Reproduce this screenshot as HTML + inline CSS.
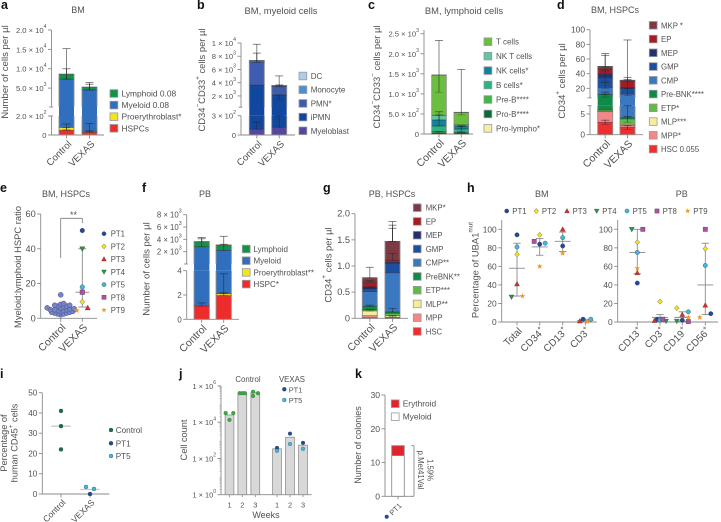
<!DOCTYPE html>
<html lang="en">
<head>
<meta charset="utf-8">
<title>VEXAS cell population charts</title>
<style>
html,body{margin:0;padding:0;background:#fff;width:721px;height:522px;overflow:hidden}
svg{display:block;font-family:"Liberation Sans",sans-serif}
text{fill:#505050}
</style>
</head>
<body>
<svg id="fig" xmlns="http://www.w3.org/2000/svg" width="721" height="522" viewBox="0 0 721 522"></svg>
<script>
/* ---------- shared categories ---------- */
const groupLabels = ['Control', 'VEXAS'];
const patients = ['PT1', 'PT2', 'PT3', 'PT4', 'PT5', 'PT8', 'PT9'];

/* ---------- panel a ---------- */
const aTickValues = [0, 200, 5000, 10000, 15000, 20000];
const aTickLabels = ['0', '2.0 × 10^{2}', '5.0 × 10^{3}', '1.0 × 10^{4}', '1.5 × 10^{4}', '2.0 × 10^{4}'];
const aHspc = [50, 28];
const aProery = [30, 7];
const aMyeloid = [7220, 4465];
const aLymphoid = [1290, 750];
const aErrControl = [[7300, 15200], [7300, 10000], [55, 115], [50, 80]];
const aErrVexas = [[4500, 6450], [4500, 6000], [35, 120], [28, 45]];

/* ---------- panel b ---------- */
const bTickValues = [0, 300, 2000, 4000, 6000, 8000, 10000];
const bTickLabels = ['0', '3 × 10^{2}', '2 × 10^{3}', '4 × 10^{3}', '6 × 10^{3}', '8 × 10^{3}', '1 × 10^{4}'];
const bMyeloblast = [90, 120];
const bIpmn = [3580, 2030];
const bPmn = [3430, 1250];
const bMonocyte = [150, 100];
const bDc = [100, 50];
const bErrControl = [[7100, 9800], [7100, 8470], [90, 200]];
const bErrVexas = [[3400, 5030], [3400, 3670], [1500, 2150], [120, 300]];

/* ---------- panel c ---------- */
const cTickValues = [0, 500, 1000, 1500, 2000, 2500];
const cTickLabels = ['0', '5.0 × 10^{2}', '1.0 × 10^{3}', '1.5 × 10^{3}', '2.0 × 10^{3}', '2.5 × 10^{3}'];
const cProLympho = [5, 3];
const cProB = [25, 20];
const cPreB = [30, 20];
const cBCells = [140, 82];
const cNkCells = [150, 75];
const cNkT = [110, 30];
const cTCells = [1010, 310];
const cErrControl = [[1040, 2330], [350, 555], [200, 475], [20, 60]];
const cErrVexas = [[475, 1610], [125, 210], [60, 190], [10, 40]];

/* ---------- panel d ---------- */
const dTickValues = [0, 5, 20, 40, 60, 80, 100];
const dTickLabels = ['0', '5', '20', '40', '60', '80', '100'];
const dHsc = [3, 1.8];
const dMpp = [2.55, 0.45];
const dMlp = [0.15, 0.25];
const dEtp = [0.3, 1.3];
const dPreBnk = [5.9, 0.3];
const dCmp = [9.4, 7.9];
const dGmp = [13.2, 8];
const dMep = [5, 1];
const dEp = [6.8, 8.6];
const dMkp = [3.6, 1.4];
const dErrControl = [[50, 67.5], [46, 65], [30, 44], [20, 28], [12, 15], [8, 12], [2.5, 3.5]];
const dErrVexas = [[31, 86], [29.6, 35], [20, 32], [10, 20], [3, 4.4], [1.2, 2.2], [4.1, 7]];

/* ---------- panel e ---------- */
const eTickValues = [0, 20, 40, 60];
const eTickLabels = ['0', '20', '40', '60'];
const eControlRatios = [13.5, 8.5, 8, 7.5, 7.5, 7, 7, 6.5, 6, 6, 5.5, 5.5, 5, 5, 5, 4.5, 4.5, 4, 4, 3.5, 3.5, 3, 3, 2.5, 2.5, 2];
const eVexasRatios = [50.5, 9.5, 6, 40, 18, 15, 4.5];
const eVexasSlots = [0, 0, 1, 0, 0, 0, -1];
const eVexasMean = [15];
const eVexasHigh = [40];
const eVexasLow = [6.5];

/* ---------- panel f ---------- */
const fTickValues = [0, 2, 4, 2000, 4000, 6000, 8000];
const fTickLabels = ['0', '2', '4', '2 × 10^{3}', '4 × 10^{3}', '6 × 10^{3}', '8 × 10^{3}'];
const fHspc = [1.1, 1.95];
const fProery = [0.05, 0.15];
const fMyeloid = [2799, 2218];
const fLymphoid = [815, 860];
const fErrControl = [[2800, 4300], [3615, 4100], [1.1, 1.35]];
const fErrVexas = [[3080, 4490], [2220, 3200], [2.1, 3.75], [1.95, 2.2]];

/* ---------- panel g ---------- */
const gTickValues = [0, 0.5, 1, 1.5, 2];
const gTickLabels = ['0', '0.5', '1.0', '1.5', '2.0'];
const gHsc = [0.01, 0.005];
const gMpp = [0.04, 0.015];
const gMlp = [0.09, 0.03];
const gEtp = [0.025, 0.045];
const gPreBnk = [0.065, 0.025];
const gCmp = [0.28, 0.75];
const gGmp = [0.06, 0.18];
const gMep = [0.03, 0.02];
const gEp = [0.09, 0.04];
const gMkp = [0.085, 0.36];
const gErrControl = [[0.775, 0.975], [0.69, 0.72], [0.57, 0.6], [0.23, 0.25], [0.14, 0.17]];
const gErrVexas = [[1.47, 1.85], [1.47, 1.78], [1.47, 1.72], [1.11, 1.24], [0.12, 0.19], [0.03, 0.05]];

/* ---------- panel h ---------- */
const hTickValues = [0, 20, 40, 60, 80, 100];
const hTickLabels = ['0', '20', '40', '60', '80', '100'];
const hBmLabels = ['Total', 'CD34^{+}', 'CD13^{+}', 'CD3^{+}'];
const hPbLabels = ['CD13^{+}', 'CD3^{+}', 'CD19^{+}', 'CD56^{+}'];
const hBmValues = [
  [94, 73, 41, 27, 81, null, 28],
  [84, 94, null, null, 85, 87, 60],
  [82, null, 100, null, 91, null, 74],
  [3, null, 1, null, 3, null, 0.5]
];
const hBmSlots = [
  [0, 0, 0, -1, 0, 0, 1],
  [0, 0, 0, 0, 1, -1, 0],
  [0, 0, 0, 0, 0, 0, 0],
  [-0.4, 0, -1, 0, 1, 0, 0.4]
];
const hBmMean = [58, 81, 87, 1.5];
const hBmHigh = [85, 90, 97, 3];
const hBmLow = [28, 72, 76, 0];
const hPbValues = [
  [42, 86, 53, 100, 75, 100, 58],
  [3, 22, 1.5, 1, 2, 3, null],
  [2, 15, 8, 1, 11, 0.5, 5],
  [9, 79, 18, null, 61, 100, 5]
];
const hPbSlots = [
  [0, 0, 0, -1, 0, 1, 0],
  [-0.5, 0, -1, 1.1, 0, 0.5, 0],
  [0, -1, 0, -1, 1.1, 1.1, 1.1],
  [1, 0, 0, 0, 0, 0, -1]
];
const hPbMean = [75, 5, 5, 40];
const hPbHigh = [100, 8, 11, 85];
const hPbLow = [52, 1, 1, 8];

/* ---------- panel i ---------- */
const iTickValues = [0, 10, 20, 30, 40, 50];
const iControl = [41, 33.5, 22];
const iPt1 = [0];
const iPt5 = [3.5, 2.5];
const iMean = [33.5, 2.3];

/* ---------- panel j ---------- */
const jTickValues = [1, 100, 10000, 1000000];
const jTickLabels = ['1 × 10^{0}', '1 × 10^{2}', '1 × 10^{4}', '1 × 10^{6}'];
const jWeeks = ['1', '2', '3'];
const jControlBars = [25000, 400000, 430000];
const jControlPoints = [[32000, 32000, 13500], [400000, 400000, 400000], [480000, 280000, 400000]];
const jControlSlots = [[-1, 1, 0], [-1, 0, 1], [-0.6, -0.6, 0.7]];
const jVexasBars = [340, 1480, 540];
const jPt1 = [380, 2340, 725];
const jPt5 = [265, 630, 340];

/* ---------- panel k ---------- */
const kTickValues = [0, 10, 20, 30];
const kMyeloid = [12];
const kErythroid = [3];

/* ---------- colours ---------- */
const ptColors = { PT1: '#1f4a9c', PT2: '#f2e41c', PT3: '#e02a2a', PT4: '#1f9a45', PT5: '#3fb8dc', PT8: '#b0509f', PT9: '#f7941d' };
const ptShapes = { PT1: 'circle', PT2: 'diamond', PT3: 'up', PT4: 'down', PT5: 'circle', PT8: 'square', PT9: 'star' };

/* ---------- drawing helpers ---------- */
const NS = 'http://www.w3.org/2000/svg';
const root = document.getElementById('fig');
const AXIS = '#8a8a8a';

function add(tag, attrs, parent, name) {
  const node = document.createElementNS(NS, tag);
  for (const k in attrs) node.setAttribute(k, attrs[k]);
  
  
  parent.appendChild(node);
  return node;
}
function panel(name) {
  return add('g', {}, root, name);
}
function label(parent, str, x, y, size, opts, name) {
  const o = opts || {};
  const a = { x: x, y: y, 'font-size': size, 'dominant-baseline': o.baseline || 'central', 'text-anchor': o.anchor || 'start' };
  if (o.rotate !== undefined) a.transform = 'rotate(' + o.rotate + ' ' + x + ' ' + y + ')';
  if (o.weight) a['font-weight'] = o.weight;
  if (o.fill) a.style = 'fill:' + o.fill;
  const t = add('text', a, parent, name);
  const parts = str.split(/\^\{(.*?)\}/);
  const shift = size * 0.38;
  let raised = false;
  parts.forEach(function (p, i) {
    if (p === '') {
      return;
    }
    const s = document.createElementNS(NS, 'tspan');
    if (i % 2 === 1) {
      s.setAttribute('dy', -shift);
      s.setAttribute('font-size', size * 0.68);
      raised = true;
    } else if (raised) {
      s.setAttribute('dy', shift);
      raised = false;
    }
    s.textContent = p;
    t.appendChild(s);
  });
  return t;
}
function line(parent, x1, y1, x2, y2, stroke, width, name) {
  return add('line', { x1: x1, y1: y1, x2: x2, y2: y2, stroke: stroke, 'stroke-width': width }, parent, name);
}
function piecewise(segs) {
  return function (v) {
    for (let i = 0; i < segs.length; i++) {
      const s = segs[i];
      if (v <= s.d1 || i === segs.length - 1) {
        return s.y0 + (v - s.d0) / (s.d1 - s.d0) * (s.y1 - s.y0);
      }
    }
  };
}
function drawYAxis(g, axisX, yScale, spans, values, labels, size) {
  spans.forEach(function (sp) {
    line(g, axisX, sp[0], axisX, sp[1], AXIS, 0.9, 'y-axis-line');
  });
  values.forEach(function (v, i) {
    const y = yScale(v);
    line(g, axisX - 3.5, y, axisX, y, AXIS, 0.9, 'y-axis-tick');
    label(g, labels[i], axisX - 5, y, size, { anchor: 'end' }, 'y-tick-label');
  });
}
function marker(g, shape, x, y, r, fill, name) {
  const stroke = '#3c3c3c';
  const sw = 0.35;
  if (shape === 'circle') {
    return add('circle', { cx: x, cy: y, r: r, fill: fill, stroke: stroke, 'stroke-width': sw }, g, name);
  }
  if (shape === 'square') {
    return add('rect', { x: x - r, y: y - r, width: 2 * r, height: 2 * r, fill: fill, stroke: stroke, 'stroke-width': sw }, g, name);
  }
  let pts = [];
  if (shape === 'diamond') pts = [[0, -1.2], [1.1, 0], [0, 1.2], [-1.1, 0]];
  if (shape === 'up') pts = [[0, -1.2], [1.15, 0.9], [-1.15, 0.9]];
  if (shape === 'down') pts = [[0, 1.2], [1.15, -0.9], [-1.15, -0.9]];
  if (shape === 'star') {
    for (let i = 0; i < 10; i++) {
      const rad = i % 2 ? 0.55 : 1.35;
      const ang = -Math.PI / 2 + i * Math.PI / 5;
      pts.push([rad * Math.cos(ang), rad * Math.sin(ang)]);
    }
  }
  const str = pts.map(function (p) { return (x + p[0] * r) + ',' + (y + p[1] * r); }).join(' ');
  return add('polygon', { points: str, fill: fill, stroke: shape === 'star' ? 'none' : stroke, 'stroke-width': sw }, g, name);
}
function drawSwatchLegend(g, entries, x, y0, step, textX, size) {
  entries.forEach(function (e, i) {
    const y = y0 + i * step;
    const item = add('g', {}, g, 'legend-entry');
    add('rect', { x: x, y: y - 3.8, width: 7.8, height: 7.6, fill: e[1], stroke: '#9a9a9a', 'stroke-width': 0.8 }, item, 'legend-swatch');
    label(item, e[0], textX, y, size, {}, 'legend-label');
  });
}
function drawPtLegend(g, names, x, y0, step, textX, size, r) {
  names.forEach(function (n, i) {
    const y = y0 + i * step;
    const item = add('g', {}, g, 'legend-entry');
    marker(item, ptShapes[n], x, y, r, ptColors[n], 'legend-marker');
    label(item, n, textX, y, size, {}, 'legend-label');
  });
}
/* Stacked bar with optional broken axis */
function stacked(cfg) {
  const g = cfg.g;
  const y = piecewise(cfg.segs);
  const base = cfg.segs[0].y0;
  line(g, cfg.axisX, base, cfg.axisEnd, base, AXIS, 0.9, 'x-axis-line');
  drawYAxis(g, cfg.axisX, y, cfg.axisSpans, cfg.ticks, cfg.tickLabels, cfg.tickSize);
  cfg.centers.forEach(function (cx, c) {
    const bx = cx - cfg.barW / 2;
    let cum = 0;
    const tops = [];
    cfg.series.forEach(function (ser) {
      const a = cum;
      const b = cum + ser[0][c];
      cum = b;
      cfg.segs.forEach(function (seg) {
        const lo = Math.max(a, seg.d0);
        const hi = Math.min(b, seg.d1);
        if (hi > lo) {
          add('rect', { x: bx, y: y(hi), width: cfg.barW, height: Math.max(y(lo) - y(hi), 0), fill: ser[1] }, g, 'bar-' + ser[2] + '-' + groupLabels[c].toLowerCase());
        }
      });
      tops.push(b);
    });
    /* outline stays open across the axis break */
    cfg.segs.forEach(function (seg, si) {
      const hi = Math.min(cum, seg.d1);
      if (hi > seg.d0) {
        const yt = y(hi);
        const yb = seg.y0;
        const closedTop = cum <= seg.d1;
        let d = 'M' + bx + ' ' + yb + 'L' + bx + ' ' + yt;
        d += closedTop ? 'L' + (bx + cfg.barW) + ' ' + yt : 'M' + (bx + cfg.barW) + ' ' + yt;
        d += 'L' + (bx + cfg.barW) + ' ' + yb;
        if (si === 0) d += 'L' + bx + ' ' + yb;
        add('path', { d: d, fill: 'none', stroke: '#8f8f8f', 'stroke-width': 0.9 }, g, 'bar-outline');
      }
    });
    tops.forEach(function (t) {
      const edge = cfg.segs.some(function (s) { return Math.abs(t - s.d1) < 1e-9; });
      if (!edge) {
        line(g, bx, y(t), bx + cfg.barW, y(t), 'rgba(30,30,40,.55)', 0.7, 'segment-top-line');
      }
    });
    cfg.errors[c].forEach(function (pair) {
      line(g, cx, y(pair[0]), cx, y(pair[1]), 'rgba(40,40,40,.62)', 0.9, 'error-bar');
      line(g, cx - 4, y(pair[1]), cx + 4, y(pair[1]), 'rgba(40,40,40,.62)', 0.9, 'error-cap');
      line(g, cx - 4, y(pair[0]), cx + 4, y(pair[0]), 'rgba(40,40,40,.4)', 0.7, 'error-cap');
    });
    line(g, cx, base, cx, base + 3.5, AXIS, 0.9, 'x-axis-tick');
    label(g, groupLabels[c], cx + 3.5, base + 7.5, cfg.catSize, { anchor: 'end', rotate: -45 }, 'x-tick-label');
  });
}

/* ---------- series colours ---------- */
const GREEN = '#13924a', BLUE = '#2f6fbe', YELLOW = '#f0e61e', RED = '#ee2c2c';

/* ---------- panel a ---------- */
(function () {
  const g = panel('panel-a');
  label(g, 'a', 1, 9, 12.5, { weight: 'bold', baseline: 'auto', fill: '#111' }, 'panel-letter');
  label(g, 'BM', 78, 10, 9, { anchor: 'middle' }, 'chart-title');
  label(g, 'Number of cells per µl', 5, 72, 9.6, { anchor: 'middle', rotate: -90 }, 'y-axis-title');
  stacked({
    g: g, axisX: 51.5, axisEnd: 104,
    segs: [{ d0: 0, d1: 200, y0: 135, y1: 116 }, { d0: 200, d1: 20000, y0: 106.7, y1: 30 }],
    axisSpans: [[135, 116], [106.7, 30]],
    ticks: aTickValues, tickLabels: aTickLabels, tickSize: 7.6, catSize: 9.6,
    centers: [66.5, 89.5], barW: 15,
    series: [[aHspc, RED, 'hspcs'], [aProery, YELLOW, 'proerythroblast'], [aMyeloid, BLUE, 'myeloid'], [aLymphoid, GREEN, 'lymphoid']],
    errors: [aErrControl, aErrVexas]
  });
  line(g, 49, 107, 53, 107, AXIS, 0.9, 'axis-break');
  line(g, 49, 116, 53, 116, AXIS, 0.9, 'axis-break');
  drawSwatchLegend(g, [['Lymphoid 0.08', GREEN], ['Myeloid 0.08', BLUE], ['Proerythroblast*', YELLOW], ['HSPCs', RED]], 110, 93.5, 11.6, 121.5, 8.4);
})();

/* ---------- panel b ---------- */
(function () {
  const g = panel('panel-b');
  label(g, 'b', 197, 9, 12.5, { weight: 'bold', baseline: 'auto', fill: '#111' }, 'panel-letter');
  label(g, 'BM, myeloid cells', 281, 10, 9.4, { anchor: 'middle' }, 'chart-title');
  label(g, 'CD34^{−}CD33^{+} cells per µl', 201, 80, 9.4, { anchor: 'middle', rotate: -90 }, 'y-axis-title');
  stacked({
    g: g, axisX: 241, axisEnd: 295,
    segs: [{ d0: 0, d1: 300, y0: 135, y1: 115.7 }, { d0: 300, d1: 10000, y0: 107.2, y1: 43 }],
    axisSpans: [[135, 115.7], [107.2, 43]],
    ticks: bTickValues, tickLabels: bTickLabels, tickSize: 7.6, catSize: 9.6,
    centers: [256.8, 279.2], barW: 15,
    series: [[bMyeloblast, '#55479f', 'myeloblast'], [bIpmn, '#11479f', 'ipmn'], [bPmn, '#3f5db0', 'pmn'], [bMonocyte, '#4f8fd0', 'monocyte'], [bDc, '#aecdee', 'dc']],
    errors: [bErrControl, bErrVexas]
  });
  line(g, 238.5, 107.2, 242.5, 107.2, AXIS, 0.9, 'axis-break');
  drawSwatchLegend(g, [['DC', '#aecdee'], ['Monocyte', '#4f8fd0'], ['PMN*', '#3f5db0'], ['iPMN', '#11479f'], ['Myeloblast', '#55479f']], 299, 76, 13.7, 310.7, 8);
})();

/* ---------- panel c ---------- */
(function () {
  const g = panel('panel-c');
  label(g, 'c', 368, 9, 12.5, { weight: 'bold', baseline: 'auto', fill: '#111' }, 'panel-letter');
  label(g, 'BM, lymphoid cells', 464, 10, 9.4, { anchor: 'middle' }, 'chart-title');
  label(g, 'CD34^{−}CD33^{−} cells per µl', 376, 77, 9.4, { anchor: 'middle', rotate: -90 }, 'y-axis-title');
  stacked({
    g: g, axisX: 424, axisEnd: 473,
    segs: [{ d0: 0, d1: 2500, y0: 134, y1: 33.7 }],
    axisSpans: [[134, 30]],
    ticks: cTickValues, tickLabels: cTickLabels, tickSize: 7.6, catSize: 10.5,
    centers: [439, 461.3], barW: 14.6,
    series: [[cProLympho, '#f5f0a0', 'pro-lympho'], [cProB, '#0c6a3a', 'pro-b'], [cPreB, '#41b549', 'pre-b'], [cBCells, '#2bb383', 'b-cells'], [cNkCells, '#12839c', 'nk-cells'], [cNkT, '#5fc6a0', 'nk-t-cells'], [cTCells, '#6cbf3e', 't-cells']],
    errors: [cErrControl, cErrVexas]
  });
  drawSwatchLegend(g, [['T cells', '#6cbf3e'], ['NK T cells', '#5fc6a0'], ['NK cells*', '#12839c'], ['B cells*', '#2bb383'], ['Pre-B****', '#41b549'], ['Pro-B****', '#0c6a3a'], ['Pro-lympho*', '#f5f0a0']], 484, 41.7, 14.45, 496, 8);
})();

/* ---------- panel d ---------- */
(function () {
  const g = panel('panel-d');
  label(g, 'd', 557, 9, 12.5, { weight: 'bold', baseline: 'auto', fill: '#111' }, 'panel-letter');
  label(g, 'BM, HSPCs', 615, 10, 9, { anchor: 'middle' }, 'chart-title');
  label(g, 'CD34^{+} cells per µl', 561, 81, 9.4, { anchor: 'middle', rotate: -90 }, 'y-axis-title');
  stacked({
    g: g, axisX: 590, axisEnd: 643,
    segs: [{ d0: 0, d1: 7, y0: 134.7, y1: 105.7 }, { d0: 7, d1: 100, y0: 97.9, y1: 29.7 }],
    axisSpans: [[134.7, 105.7], [97.9, 29.7]],
    ticks: dTickValues, tickLabels: dTickLabels, tickSize: 8.4, catSize: 10.5,
    centers: [605.2, 627.5], barW: 15,
    series: [[dHsc, '#ed2f2f', 'hsc'], [dMpp, '#f4878a', 'mpp'], [dMlp, '#f4ee9c', 'mlp'], [dEtp, '#63b947', 'etp'], [dPreBnk, '#0f8a48', 'pre-bnk'], [dCmp, '#3a78c0', 'cmp'], [dGmp, '#1c4f9f', 'gmp'], [dMep, '#23326f', 'mep'], [dEp, '#a61c25', 'ep'], [dMkp, '#7c3a45', 'mkp']],
    errors: [dErrControl, dErrVexas]
  });
  line(g, 587.5, 97.9, 591.5, 97.9, AXIS, 0.9, 'axis-break');
  line(g, 587.5, 105.7, 591.5, 105.7, AXIS, 0.9, 'axis-break');
  drawSwatchLegend(g, [['MKP *', '#7c3a45'], ['EP', '#a61c25'], ['MEP', '#23326f'], ['GMP', '#1c4f9f'], ['CMP', '#3a78c0'], ['Pre-BNK****', '#0f8a48'], ['ETP*', '#63b947'], ['MLP***', '#f4ee9c'], ['MPP*', '#f4878a'], ['HSC 0.055', '#ed2f2f']], 649.3, 25.3, 13.75, 661, 7.8);
})();

/* ---------- panel e ---------- */
(function () {
  const g = panel('panel-e');
  label(g, 'e', 0, 192, 12.5, { weight: 'bold', baseline: 'auto', fill: '#111' }, 'panel-letter');
  label(g, 'BM, HSPCs', 66, 194, 9, { anchor: 'middle' }, 'chart-title');
  label(g, 'Myeloid:lymphoid HSPC ratio', 17, 267, 9.4, { anchor: 'middle', rotate: -90 }, 'y-axis-title');
  const y = function (v) { return 318.3 - v / 60 * 104.3; };
  const cats = [60.7, 82.3];
  line(g, 40.7, 318.3, 97, 318.3, AXIS, 0.9, 'x-axis-line');
  drawYAxis(g, 40.7, y, [[318.3, 214]], eTickValues, eTickLabels, 9.2);
  cats.forEach(function (cx, i) {
    line(g, cx, 318.3, cx, 321.8, AXIS, 0.9, 'x-axis-tick');
    label(g, groupLabels[i], cx + 3.5, 326, 10.5, { anchor: 'end', rotate: -45 }, 'x-tick-label');
  });
  /* significance bracket */
  line(g, 60.7, 218.3, 82.3, 218.3, '#777', 0.8, 'significance-bracket');
  line(g, 60.7, 218.3, 60.7, 258, '#777', 0.8, 'significance-bracket');
  line(g, 82.3, 218.3, 82.3, 223, '#777', 0.8, 'significance-bracket');
  label(g, '**', 73.5, 215, 9, { anchor: 'middle' }, 'significance-label');
  /* control swarm: horizontal placement is derived from the values */
  const placed = [];
  const r = 2.5;
  eControlRatios.slice().sort(function (a, b) { return a - b; }).forEach(function (v) {
    const py = y(v);
    let k = 0, px = cats[0];
    const hit = function (x) {
      return placed.some(function (p) { return Math.hypot(p[0] - x, p[1] - py) < r * 1.05; });
    };
    while (hit(px) && k < 40) {
      k++;
      px = cats[0] + (k % 2 ? 1 : -1) * Math.ceil(k / 2) * 1.5;
    }
    placed.push([px, py]);
    add('circle', { cx: px, cy: py, r: r, fill: '#7885c4', stroke: '#3f4d8e', 'stroke-width': 0.5 }, g, 'control-point');
  });
  /* VEXAS summary */
  const cx = cats[1];
  line(g, cx, y(eVexasHigh[0]), cx, y(eVexasLow[0]), '#8a8a8a', 0.9, 'error-bar');
  line(g, cx - 4, y(eVexasHigh[0]), cx + 4, y(eVexasHigh[0]), '#8a8a8a', 0.9, 'error-cap');
  line(g, cx - 4, y(eVexasLow[0]), cx + 4, y(eVexasLow[0]), '#8a8a8a', 0.9, 'error-cap');
  line(g, cx - 7, y(eVexasMean[0]), cx + 7, y(eVexasMean[0]), '#8a8a8a', 0.9, 'mean-line');
  patients.forEach(function (p, i) {
    marker(g, ptShapes[p], cx + eVexasSlots[i] * 5.4, y(eVexasRatios[i]), 2.3, ptColors[p], 'point-' + p.toLowerCase());
  });
  drawPtLegend(g, patients, 104, 233.7, 12.72, 110.7, 7.8, 2.1);
})();

/* ---------- panel f ---------- */
(function () {
  const g = panel('panel-f');
  label(g, 'f', 142, 192, 12.5, { weight: 'bold', baseline: 'auto', fill: '#111' }, 'panel-letter');
  label(g, 'PB', 205, 194, 9, { anchor: 'middle' }, 'chart-title');
  label(g, 'Number of cells per µl', 146.7, 269, 9.6, { anchor: 'middle', rotate: -90 }, 'y-axis-title');
  stacked({
    g: g, axisX: 186.7, axisEnd: 239,
    segs: [{ d0: 0, d1: 4, y0: 319.3, y1: 270.7 }, { d0: 4, d1: 8000, y0: 264, y1: 214.7 }],
    axisSpans: [[319.3, 270.7], [264, 214.7]],
    ticks: fTickValues, tickLabels: fTickLabels, tickSize: 7.8, catSize: 10.5,
    centers: [201.7, 223.7], barW: 15.3,
    series: [[fHspc, RED, 'hspc'], [fProery, YELLOW, 'proerythroblast'], [fMyeloid, BLUE, 'myeloid'], [fLymphoid, GREEN, 'lymphoid']],
    errors: [fErrControl, fErrVexas]
  });
  line(g, 184, 264, 188, 264, AXIS, 0.9, 'axis-break');
  drawSwatchLegend(g, [['Lymphoid', GREEN], ['Myeloid', BLUE], ['Proerythroblast**', YELLOW], ['HSPC*', RED]], 242.3, 249, 11.7, 253.5, 8);
})();

/* ---------- panel g ---------- */
(function () {
  const g = panel('panel-g');
  label(g, 'g', 323, 192, 12.5, { weight: 'bold', baseline: 'auto', fill: '#111' }, 'panel-letter');
  label(g, 'PB, HSPCs', 392, 194, 9, { anchor: 'middle' }, 'chart-title');
  label(g, 'CD34^{+} cells per µl', 327.7, 265, 9.4, { anchor: 'middle', rotate: -90 }, 'y-axis-title');
  stacked({
    g: g, axisX: 355, axisEnd: 408,
    segs: [{ d0: 0, d1: 2, y0: 318.3, y1: 213.7 }],
    axisSpans: [[318.3, 213.7]],
    ticks: gTickValues, tickLabels: gTickLabels, tickSize: 9.2, catSize: 10.5,
    centers: [369.8, 392.5], barW: 15,
    series: [[gHsc, '#ed2f2f', 'hsc'], [gMpp, '#f4878a', 'mpp'], [gMlp, '#f4ee9c', 'mlp'], [gEtp, '#63b947', 'etp'], [gPreBnk, '#0f8a48', 'prebnk'], [gCmp, '#3a78c0', 'cmp'], [gGmp, '#1c4f9f', 'gmp'], [gMep, '#23326f', 'mep'], [gEp, '#a61c25', 'ep'], [gMkp, '#7c3a45', 'mkp']],
    errors: [gErrControl, gErrVexas]
  });
  drawSwatchLegend(g, [['MKP*', '#7c3a45'], ['EP', '#a61c25'], ['MEP', '#23326f'], ['GMP', '#1c4f9f'], ['CMP**', '#3a78c0'], ['PreBNK**', '#0f8a48'], ['ETP***', '#63b947'], ['MLP**', '#f4ee9c'], ['MPP', '#f4878a'], ['HSC', '#ed2f2f']], 413.3, 207.7, 13.75, 425.7, 7.8);
})();

/* ---------- panel h ---------- */
(function () {
  const g = panel('panel-h');
  label(g, 'h', 467, 192, 12.5, { weight: 'bold', baseline: 'auto', fill: '#111' }, 'panel-letter');
  label(g, 'BM', 541.7, 194, 9, { anchor: 'middle' }, 'chart-title');
  label(g, 'PB', 681.7, 194, 9, { anchor: 'middle' }, 'chart-title');
  label(g, 'Percentage of UBA1^{mut}', 474.3, 270, 9.4, { anchor: 'middle', rotate: -90 }, 'y-axis-title');
  const y = function (v) { return 322 - v / 100 * 92.7; };
  const legendXs = [506.7, 536.3, 567, 596.7, 627, 657, 687.7];
  patients.forEach(function (p, i) {
    const item = add('g', {}, g, 'legend-entry');
    marker(item, ptShapes[p], legendXs[i], 211, 2.1, ptColors[p], 'legend-marker');
    label(item, p, legendXs[i] + 5.6, 211, 7.8, {}, 'legend-label');
  });
  function side(axisX, axisEnd, centers, labels, values, slots, mean, high, low, tag) {
    line(g, axisX, 322, axisEnd, 322, AXIS, 0.9, 'x-axis-line');
    drawYAxis(g, axisX, y, [[322, 220]], hTickValues, hTickLabels, 8.4);
    centers.forEach(function (cx, c) {
      line(g, cx, 322, cx, 325.5, AXIS, 0.9, 'x-axis-tick');
      label(g, labels[c], cx + 3.5, 329.5, 10, { anchor: 'end', rotate: -45 }, 'x-tick-label');
      line(g, cx, y(high[c]), cx, y(low[c]), '#8a8a8a', 0.9, 'error-bar');
      line(g, cx - 3.7, y(high[c]), cx + 3.7, y(high[c]), '#8a8a8a', 0.9, 'error-cap');
      line(g, cx - 3.7, y(low[c]), cx + 3.7, y(low[c]), '#8a8a8a', 0.9, 'error-cap');
      line(g, cx - 8, y(mean[c]), cx + 8, y(mean[c]), '#8a8a8a', 0.9, 'mean-line');
      patients.forEach(function (p, i) {
        const v = values[c][i];
        if (v !== null) {
          marker(g, ptShapes[p], cx + slots[c][i] * 5.5, y(v), 2.2, ptColors[p], 'point-' + tag + '-' + p.toLowerCase());
        }
      });
    });
  }
  side(501.7, 596.7, [517, 539.7, 562.7, 585.3], hBmLabels, hBmValues, hBmSlots, hBmMean, hBmHigh, hBmLow, 'bm');
  side(617.7, 718, [637.3, 660, 682.3, 705.3], hPbLabels, hPbValues, hPbSlots, hPbMean, hPbHigh, hPbLow, 'pb');
})();

/* ---------- panel i ---------- */
(function () {
  const g = panel('panel-i');
  label(g, 'i', 0, 378, 12.5, { weight: 'bold', baseline: 'auto', fill: '#111' }, 'panel-letter');
  label(g, 'Percentage of', 4, 443, 9.2, { anchor: 'middle', rotate: -90 }, 'y-axis-title');
  label(g, 'human CD45^{+} cells', 14.7, 443, 9.2, { anchor: 'middle', rotate: -90 }, 'y-axis-title');
  const y = function (v) { return 494 - v / 50 * 101.3; };
  const cats = [61, 90];
  line(g, 42.3, 494, 109.3, 494, AXIS, 0.9, 'x-axis-line');
  drawYAxis(g, 42.3, y, [[494, 392.7]], iTickValues, iTickValues.map(String), 8.2);
  cats.forEach(function (cx, i) {
    line(g, cx, 494, cx, 497.5, AXIS, 0.9, 'x-axis-tick');
    label(g, groupLabels[i], cx + 3, 501, 8.6, { anchor: 'end', rotate: -45 }, 'x-tick-label');
    line(g, cx - 9.7, y(iMean[i]), cx + 9.7, y(iMean[i]), '#b5b5b5', 0.9, 'mean-line');
  });
  iControl.forEach(function (v) {
    add('circle', { cx: cats[0], cy: y(v), r: 2, fill: '#13734a', stroke: '#333', 'stroke-width': 0.3 }, g, 'control-point');
  });
  iPt5.forEach(function (v, k) {
    add('circle', { cx: cats[1] + (k === 0 ? -4 : 4), cy: y(v), r: 2, fill: '#3fb8dc', stroke: '#333', 'stroke-width': 0.3 }, g, 'pt5-point');
  });
  iPt1.forEach(function (v) {
    add('circle', { cx: cats[1], cy: y(v), r: 2, fill: '#1f4a9c', stroke: '#333', 'stroke-width': 0.3 }, g, 'pt1-point');
  });
  const leg = [['Control', '#13734a', 430], ['PT1', '#1f4a9c', 443.3], ['PT5', '#3fb8dc', 456]];
  leg.forEach(function (e) {
    const item = add('g', {}, g, 'legend-entry');
    add('circle', { cx: 111, cy: e[2], r: 2, fill: e[1], stroke: '#333', 'stroke-width': 0.3 }, item, 'legend-marker');
    label(item, e[0], 115.7, e[2], 8.2, {}, 'legend-label');
  });
})();

/* ---------- panel j ---------- */
(function () {
  const g = panel('panel-j');
  label(g, 'j', 179, 378, 12.5, { weight: 'bold', baseline: 'auto', fill: '#111' }, 'panel-letter');
  label(g, 'Cell count', 184, 440, 9.2, { anchor: 'middle', rotate: -90 }, 'y-axis-title');
  label(g, 'Control', 248, 379, 7.8, { anchor: 'middle' }, 'group-label');
  label(g, 'VEXAS', 292, 379, 7.8, { anchor: 'middle' }, 'group-label');
  const y = function (v) { return 494.7 - Math.log10(v) * 18.12; };
  const base = y(1);
  line(g, 221, base, 311.7, base, AXIS, 0.9, 'x-axis-line');
  drawYAxis(g, 221, y, [[base, y(1000000)]], jTickValues, jTickLabels, 7.4);
  for (let dec = 0; dec < 6; dec++) {
    for (let m = 2; m < 10; m++) {
      const my = y(m * Math.pow(10, dec));
      line(g, 219.4, my, 221, my, '#a5a5a5', 0.5, 'y-axis-minor-tick');
    }
  }
  const controlX = [229.5, 242.3, 255.3];
  const vexasX = [277, 290, 303];
  function bar(cx, v, week) {
    add('rect', { x: cx - 4.4, y: y(v), width: 8.8, height: base - y(v), fill: '#d8d8d8', stroke: '#8f8f8f', 'stroke-width': 0.8 }, g, 'bar-week-' + week);
    line(g, cx, base, cx, base + 2.5, AXIS, 0.8, 'x-axis-tick');
    label(g, jWeeks[week - 1], cx, 504.7, 7.4, { anchor: 'middle' }, 'x-tick-label');
  }
  controlX.forEach(function (cx, i) {
    bar(cx, jControlBars[i], i + 1);
    jControlPoints[i].forEach(function (v, k) {
      const slotWidth = i === 1 ? 2.6 : 3.8;
      add('circle', { cx: cx + jControlSlots[i][k] * slotWidth, cy: y(v), r: 1.9, fill: '#43a547', stroke: '#2b7a34', 'stroke-width': 0.3 }, g, 'control-point');
    });
  });
  vexasX.forEach(function (cx, i) {
    bar(cx, jVexasBars[i], i + 1);
    add('circle', { cx: cx, cy: y(jPt1[i]), r: 1.9, fill: '#1f4a9c', stroke: '#333', 'stroke-width': 0.25 }, g, 'pt1-point');
    add('circle', { cx: cx, cy: y(jPt5[i]), r: 1.9, fill: '#3fb8dc', stroke: '#333', 'stroke-width': 0.25 }, g, 'pt5-point');
  });
  label(g, 'Weeks', 266, 515, 9, { anchor: 'middle' }, 'x-axis-title');
  const leg = [['PT1', '#1f4a9c', 389.3], ['PT5', '#3fb8dc', 400]];
  leg.forEach(function (e) {
    const item = add('g', {}, g, 'legend-entry');
    add('circle', { cx: 284.3, cy: e[2], r: 2, fill: e[1], stroke: '#333', 'stroke-width': 0.25 }, item, 'legend-marker');
    label(item, e[0], 288.7, e[2], 7.4, {}, 'legend-label');
  });
})();

/* ---------- panel k ---------- */
(function () {
  const g = panel('panel-k');
  label(g, 'k', 355, 378, 12.5, { weight: 'bold', baseline: 'auto', fill: '#111' }, 'panel-letter');
  label(g, 'Number of colonies', 358, 445, 9, { anchor: 'middle', rotate: -90 }, 'y-axis-title');
  const y = function (v) { return 496.3 - v / 30 * 101.3; };
  const base = y(0);
  line(g, 385, base, 413, base, AXIS, 0.9, 'x-axis-line');
  drawYAxis(g, 385, y, [[base, y(30)]], kTickValues, kTickValues.map(String), 8.6);
  const bx = 391.7, bw = 12.6;
  add('rect', { x: bx, y: y(kMyeloid[0]), width: bw, height: base - y(kMyeloid[0]), fill: '#fff' }, g, 'bar-myeloid');
  add('rect', { x: bx, y: y(kMyeloid[0] + kErythroid[0]), width: bw, height: y(kMyeloid[0]) - y(kMyeloid[0] + kErythroid[0]), fill: '#e1242c' }, g, 'bar-erythroid');
  add('rect', { x: bx, y: y(kMyeloid[0] + kErythroid[0]), width: bw, height: base - y(kMyeloid[0] + kErythroid[0]), fill: 'none', stroke: '#8f8f8f', 'stroke-width': 0.9 }, g, 'bar-outline');
  line(g, 398, base, 398, base + 3, AXIS, 0.9, 'x-axis-tick');
  label(g, 'PT1', 400, 504, 7.4, { anchor: 'end', rotate: -45 }, 'x-tick-label');
  add('circle', { cx: 386.7, cy: 516.7, r: 2, fill: '#1f4a9c' }, g, 'pt1-marker');
  drawSwatchLegend(g, [['Erythroid', '#e1242c'], ['Myeloid', '#fff']], 391.3, 403.7, 13, 402.7, 8.4);
  const top = y(kMyeloid[0] + kErythroid[0]);
  line(g, 414, top, 414, base, '#8a8a8a', 0.9, 'annotation-bracket');
  line(g, 411.5, top, 414, top, '#8a8a8a', 0.9, 'annotation-bracket');
  line(g, 411.5, base, 414, base, '#8a8a8a', 0.9, 'annotation-bracket');
  label(g, 'p.Met41Val', 421, 470, 7.8, { anchor: 'middle', rotate: 90 }, 'annotation-variant');
  label(g, '1.59%', 430.7, 470, 7.8, { anchor: 'middle', rotate: 90 }, 'annotation-vaf');
})();
</script>
</body>
</html>
